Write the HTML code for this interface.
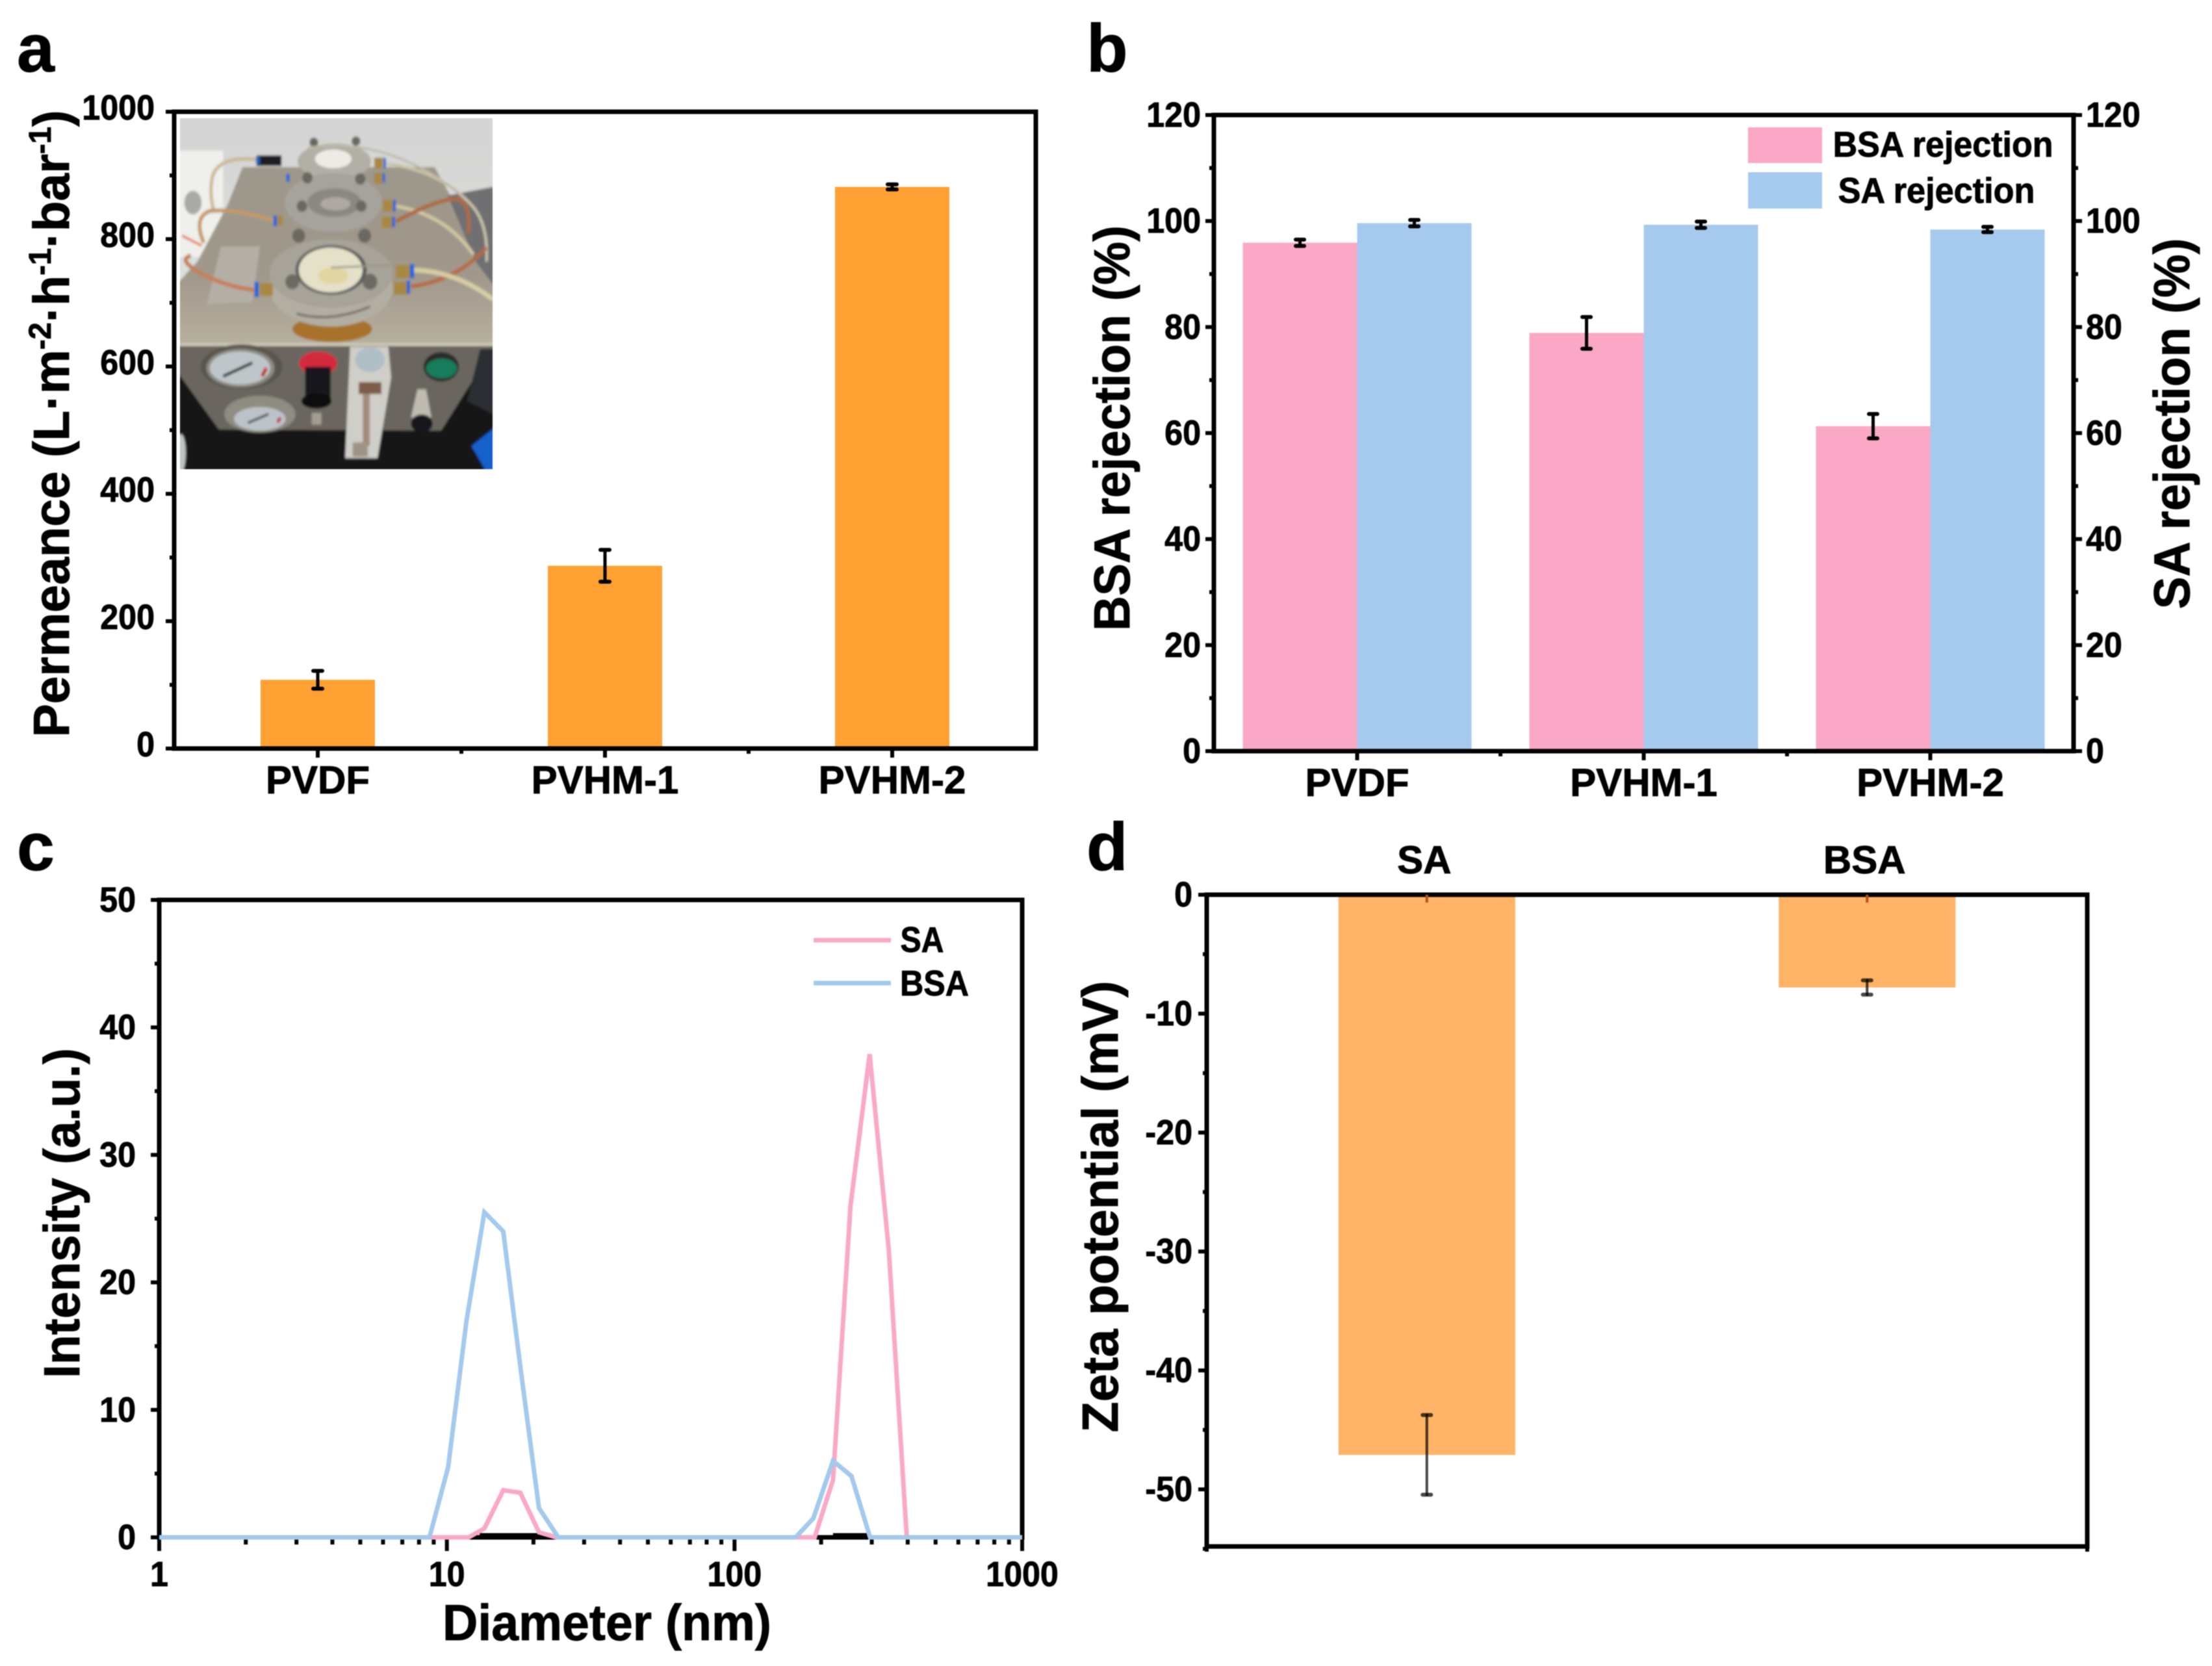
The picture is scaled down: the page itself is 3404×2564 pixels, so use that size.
<!DOCTYPE html>
<html lang="en">
<head>
<meta charset="utf-8">
<title>Membrane performance figure</title>
<style>
html,body{margin:0;padding:0;background:#fff;width:3404px;height:2564px;overflow:hidden}
svg{display:block}
#figure{filter:blur(.7px)}
text{font-family:"Liberation Sans",Arial,sans-serif;font-weight:700;fill:#000;stroke:#000;stroke-width:.9px}
</style>
</head>
<body>
<svg id="figure" xmlns="http://www.w3.org/2000/svg" width="3404" height="2564" viewBox="0 0 3404 2564">
<defs>
  <filter id="soft" x="-5%" y="-5%" width="110%" height="110%"><feGaussianBlur stdDeviation="5"/></filter>
  <linearGradient id="plate" x1="0" y1="0" x2="0" y2="1"><stop offset="0" stop-color="#9E978B"/><stop offset=".6" stop-color="#A0988A"/><stop offset="1" stop-color="#B8B0A0"/></linearGradient>
  <linearGradient id="wall" x1="0" y1="0" x2="0" y2="1"><stop offset="0" stop-color="#D2D4D2"/><stop offset="1" stop-color="#ECEDEB"/></linearGradient>
</defs>
<rect width="3404" height="2564" fill="#fff"/>

<g id="panel-a">
  <text x="26" y="110" font-size="104">a</text>
  <g id="a-marks"></g>
  <rect x="268" y="172" width="1326" height="980" fill="none" stroke="#000" stroke-width="7"/>
  <g id="a-axes"></g>
  <text data-w="965" transform="translate(106,652) rotate(-90)" text-anchor="middle" font-size="78">Permeance (L·m<tspan dy="-28" font-size="48">-2</tspan><tspan dy="28">·h</tspan><tspan dy="-28" font-size="48">-1</tspan><tspan dy="28">·bar</tspan><tspan dy="-28" font-size="48">-1</tspan><tspan dy="28">)</tspan></text>
  <svg x="277" y="182" width="481" height="540" viewBox="50 33 1448 1485" preserveAspectRatio="none">
    <g filter="url(#soft)" fill="none">
      <rect x="30" y="20" width="1480" height="1510" fill="url(#wall)"/>
      <rect x="30" y="170" width="220" height="450" fill="#EFEFEC"/>
      <polygon points="340,240 1230,240 1520,720 1520,1000 30,1000 30,740 130,640 270,400" fill="url(#plate)"/>
      <polygon points="1290,360 1520,320 1520,760 1420,640" fill="#6F7072"/>
      <ellipse cx="110" cy="390" rx="40" ry="50" fill="#A9A9A7"/>
      <polygon points="240,575 420,575 385,810 175,820" fill="#B4AFA6"/>
      <path d="M60 530 L150 572" stroke="#E8591F" stroke-width="9"/>
      <ellipse cx="765" cy="215" rx="170" ry="75" fill="#B1AFA6"/>
      <ellipse cx="760" cy="205" rx="85" ry="40" fill="#EDEBE4"/>
      <ellipse cx="760" cy="390" rx="225" ry="125" fill="#A5A39B"/>
      <ellipse cx="765" cy="390" rx="125" ry="60" fill="#8A8883"/>
      <ellipse cx="770" cy="395" rx="70" ry="28" fill="#AFA9A1"/>
      <g fill="#6A6860">
        <circle cx="670" cy="135" r="20"/><circle cx="865" cy="130" r="20"/>
        <circle cx="640" cy="285" r="24"/><circle cx="885" cy="290" r="24"/>
        <circle cx="615" cy="405" r="24"/><circle cx="890" cy="405" r="24"/>
        <circle cx="600" cy="530" r="30"/><circle cx="905" cy="530" r="30"/>
      </g>
      <ellipse cx="755" cy="925" rx="185" ry="55" fill="#A8722C"/>
      <ellipse cx="750" cy="750" rx="285" ry="165" fill="#B3AEA2"/>
      <ellipse cx="750" cy="690" rx="285" ry="145" fill="#A8A399"/>
      <ellipse cx="750" cy="675" rx="165" ry="105" fill="#565A5C"/>
      <ellipse cx="748" cy="675" rx="148" ry="95" fill="#E4E1C8"/>
      <ellipse cx="760" cy="700" rx="70" ry="35" fill="#E2D6A0"/>
      <path d="M750 665 L1020 655" stroke="#9A968A" stroke-width="8"/>
      <path d="M590 860 Q750 900 930 830" stroke="#6F6D66" stroke-width="10"/>
      <circle cx="570" cy="725" r="32" fill="#6C6A62"/><circle cx="930" cy="725" r="34" fill="#6C6A62"/>
      <path d="M410 208 Q230 190 200 280 Q185 350 205 420" stroke="#C9B793" stroke-width="15"/>
      <path d="M480 465 Q300 415 190 425 Q110 450 160 560" stroke="#C4986A" stroke-width="17"/>
      <path d="M395 760 Q250 745 130 680 Q40 630 100 615" stroke="#C5805A" stroke-width="18"/>
      <path d="M1000 225 Q1250 250 1400 400 Q1480 480 1470 640" stroke="#C9C2A8" stroke-width="13"/>
      <path d="M1050 405 Q1280 440 1410 610" stroke="#D2C6A2" stroke-width="15"/>
      <path d="M1050 470 Q1250 370 1340 375 Q1400 400 1385 520" stroke="#AF6A42" stroke-width="17"/>
      <path d="M1120 745 Q1330 720 1470 580" stroke="#B66A45" stroke-width="17"/>
      <path d="M1130 675 Q1330 680 1500 800" stroke="#D8CDA6" stroke-width="20"/>
      <path d="M640 160 Q800 130 1000 180 Q1200 240 1340 350" stroke="#BDB8A6" stroke-width="9"/>
      <rect x="405" y="190" width="115" height="45" fill="#1D1E24"/><rect x="402" y="195" width="18" height="32" fill="#1B66C9"/>
      <g fill="#A98843">
        <rect x="950" y="200" width="40" height="45"/><rect x="950" y="265" width="40" height="45"/>
        <rect x="990" y="378" width="48" height="50"/><rect x="985" y="450" width="50" height="48"/>
        <rect x="1050" y="655" width="70" height="55"/><rect x="1040" y="725" width="70" height="55"/>
        <rect x="420" y="730" width="60" height="55"/><rect x="490" y="445" width="35" height="40"/>
      </g>
      <g fill="#1466DA">
        <rect x="992" y="200" width="12" height="45"/><rect x="988" y="265" width="12" height="40"/>
        <rect x="1036" y="378" width="14" height="50"/><rect x="1032" y="450" width="14" height="45"/>
        <rect x="1115" y="650" width="20" height="60"/><rect x="1100" y="720" width="16" height="55"/>
        <rect x="395" y="725" width="20" height="65"/><rect x="483" y="445" width="16" height="45"/>
        <rect x="542" y="268" width="16" height="34"/>
      </g>
      <rect x="30" y="985" width="1490" height="12" fill="#D0CBBD"/>
      <rect x="30" y="997" width="1490" height="540" fill="#141519"/>
      <polygon points="40,997 1510,997 1498,1010 1260,1355 230,1350 40,1110" fill="#6A665E"/>
      <polygon points="1440,1010 1510,1010 1510,1290 1380,1230" fill="#2B2D30"/>
      <ellipse cx="335" cy="1085" rx="190" ry="95" fill="#5A564E"/>
      <ellipse cx="330" cy="1090" rx="158" ry="82" fill="#8D8B84"/>
      <ellipse cx="328" cy="1090" rx="140" ry="70" fill="#BFC6CA"/>
      <path d="M250 1125 L385 1068" stroke="#17181C" stroke-width="12"/>
      <path d="M430 1125 L450 1090" stroke="#C0272D" stroke-width="16"/>
      <ellipse cx="420" cy="1285" rx="165" ry="78" fill="#8F8C82"/>
      <ellipse cx="420" cy="1305" rx="120" ry="50" fill="#BCC3C8"/>
      <path d="M365 1322 L460 1285" stroke="#17181C" stroke-width="9"/>
      <path d="M502 1320 L515 1300" stroke="#C0272D" stroke-width="14"/>
      <ellipse cx="690" cy="1070" rx="88" ry="50" fill="#D42A3C"/>
      <rect x="630" y="1085" width="118" height="155" fill="#15161A"/>
      <ellipse cx="682" cy="1230" rx="70" ry="32" fill="#0B0B0E"/>
      <rect x="660" y="1280" width="45" height="50" fill="#A29E93"/>
      <polygon points="838,1000 1015,1000 1028,1130 965,1472 815,1472" fill="#CFCEC9"/>
      <ellipse cx="930" cy="1055" rx="68" ry="52" fill="#B0BEC6"/>
      <rect x="878" y="1150" width="105" height="50" fill="#7B5D4A"/>
      <rect x="897" y="1200" width="32" height="220" fill="#A38C7C"/>
      <rect x="850" y="1405" width="70" height="60" fill="#9E9485"/>
      <ellipse cx="1260" cy="1085" rx="82" ry="62" fill="#2B2C2C"/>
      <ellipse cx="1262" cy="1092" rx="72" ry="42" fill="#177B5C"/>
      <polygon points="1150,1180 1190,1180 1215,1300 1120,1300" fill="#BFBBB1"/>
      <ellipse cx="1170" cy="1325" rx="50" ry="38" fill="#17181C"/>
      <polygon points="1510,1340 1510,1530 1470,1530 1400,1420" fill="#1561CC"/>
      <ellipse cx="55" cy="1450" rx="22" ry="80" fill="#BFC4C4"/>
    </g>
  </svg>
</g>

<g id="panel-b">
  <text x="1672" y="110" font-size="104">b</text>
  <g id="b-marks"></g>
  <rect x="1868" y="177" width="1323" height="979" fill="none" stroke="#000" stroke-width="7"/>
  <g id="b-axes"></g>
  <text data-w="624" transform="translate(1738,659) rotate(-90)" text-anchor="middle" font-size="78">BSA rejection (%)</text>
  <text data-w="571" transform="translate(3369,652) rotate(-90)" text-anchor="middle" font-size="78">SA rejection (%)</text>
  <g>
    <rect x="2690" y="196" width="114" height="55" fill="#FAA8C6"/>
    <rect x="2690" y="265" width="114" height="56" fill="#A5CAEE"/>
    <text data-w="339" transform="translate(2990,241)" text-anchor="middle" font-size="55">BSA rejection</text>
    <text data-w="303" transform="translate(2980,312)" text-anchor="middle" font-size="55">SA rejection</text>
  </g>
</g>

<g id="panel-c">
  <text x="26" y="1339" font-size="104">c</text>
  <rect x="245" y="1385" width="1328" height="981" fill="none" stroke="#000" stroke-width="7"/>
  <g id="c-axes"></g>
  <g id="c-marks"></g>
  <text data-w="508" transform="translate(122,1867) rotate(-90)" text-anchor="middle" font-size="78">Intensity (a.u.)</text>
  <text data-w="506" transform="translate(934,2524)" text-anchor="middle" font-size="78">Diameter (nm)</text>
  <g>
    <line x1="1252" y1="1447" x2="1371" y2="1447" stroke="#F9A8C8" stroke-width="7"/>
    <line x1="1252" y1="1513" x2="1371" y2="1513" stroke="#A3C9EC" stroke-width="7"/>
    <text data-w="67" transform="translate(1419,1465)" text-anchor="middle" font-size="55">SA</text>
    <text data-w="106" transform="translate(1438,1532)" text-anchor="middle" font-size="55">BSA</text>
  </g>
</g>

<g id="panel-d">
  <text x="1672" y="1339" font-size="104">d</text>
  <g id="d-marks"></g>
  <rect x="1857" y="1377" width="1355" height="1003" fill="none" stroke="#000" stroke-width="7"/>
  <g id="d-axes"></g>
  <text data-w="695" transform="translate(1720,1857) rotate(-90)" text-anchor="middle" font-size="78">Zeta potential (mV)</text>
</g>
</svg>

<script>
// ---- panel a data ----
const aCategories = ['PVDF', 'PVHM-1', 'PVHM-2'];
const aPermeance = [108, 287, 882];
const aPermeanceError = [14, 25, 4];
const aTicks = [0, 200, 400, 600, 800, 1000];
// ---- panel b data ----
const bCategories = ['PVDF', 'PVHM-1', 'PVHM-2'];
const bBsaRejection = [95.9, 78.9, 61.3];
const bBsaError = [0.6, 3, 2.3];
const bSaRejection = [99.6, 99.3, 98.4];
const bSaError = [0.6, 0.6, 0.5];
const bTicks = [0, 20, 40, 60, 80, 100, 120];
// ---- panel c data ----
const cSaDiameter = [1, 11.9, 13.5, 15.7, 18, 20.9, 24, 190, 220, 253, 295, 344, 397, 1000];
const cSaIntensity = [0, 0, 0.7, 3.7, 3.5, 0.4, 0, 0, 4.5, 26, 37.9, 22.5, 0, 0];
const cBsaDiameter = [1, 8.7, 10.1, 11.7, 13.5, 15.7, 18.1, 20.9, 24.4, 163, 188, 220, 255, 296, 1000];
const cBsaIntensity = [0, 0, 5.5, 17, 25.5, 24, 13, 2.3, 0, 0, 1.5, 6, 4.8, 0, 0];
const cBaselineRanges = [[13, 23], [220, 295]];
const cYTicks = [0, 10, 20, 30, 40, 50];
const cXTicks = [1, 10, 100, 1000];
// ---- panel d data ----
const dCategories = ['SA', 'BSA'];
const dZeta = [-47.1, -7.8];
const dZetaError = [3.35, 0.6];
const dTicks = [0, -10, -20, -30, -40, -50];

const NS = 'http://www.w3.org/2000/svg';
function make(parent, tag, attrs) {
  const el = document.createElementNS(NS, tag);
  for (const k in attrs) el.setAttribute(k, attrs[k]);
  parent.appendChild(el);
  return el;
}
function tickLine(parent, x1, y1, x2, y2, w, name) {
  const el = make(parent, 'line', {x1, y1, x2, y2, stroke: '#000', 'stroke-width': w});
  
  
  return el;
}
function tickText(parent, str, x, y, anchor, size, sx, name) {
  const el = make(parent, 'text', {transform: `translate(${x},${y}) scale(${sx},1)`, 'text-anchor': anchor, 'font-size': size});
  el.textContent = str;
  
  
  return el;
}
function rectBar(parent, x, y, w, h, fill, name) {
  const el = make(parent, 'rect', {x, y, width: w, height: h, fill});
  
  
  return el;
}
function errorBar(parent, x, yHigh, yLow, w, capW, capH, name) {
  const g = make(parent, 'g', {stroke: '#000', 'stroke-linecap': 'round'});
  
  
  make(g, 'line', {x1: x, y1: yHigh, x2: x, y2: yLow, 'stroke-width': w});
  make(g, 'line', {x1: x - capW / 2, y1: yHigh, x2: x + capW / 2, y2: yHigh, 'stroke-width': capH});
  make(g, 'line', {x1: x - capW / 2, y1: yLow, x2: x + capW / 2, y2: yLow, 'stroke-width': capH});
  return g;
}

// ---- panel a ----
(function () {
  const marks = document.getElementById('a-marks'), axes = document.getElementById('a-axes');
  const L = 268, R = 1594, T = 172, B = 1152;
  const y = v => B - (v / 1000) * (B - T);
  const x = i => L + (i + 0.5) / aCategories.length * (R - L);
  aCategories.forEach((c, i) => {
    rectBar(marks, x(i) - 88, y(aPermeance[i]), 176, B - y(aPermeance[i]), '#FFA033', 'bar-' + c);
    errorBar(marks, x(i), y(aPermeance[i] + aPermeanceError[i]), y(aPermeance[i] - aPermeanceError[i]), 5, 14, 6, 'error-bar-' + c);
    tickLine(axes, x(i), B, x(i), B + 14, 6, 'x-tick-' + c);
    tickText(axes, c, x(i), 1221, 'middle', 60, 1.0, 'x-tick-label-' + c);
    if (i < aCategories.length - 1) tickLine(axes, x(i + 0.5), B, x(i + 0.5), B + 8, 6, 'x-minor-tick');
  });
  aTicks.forEach((v, i) => {
    tickLine(axes, L - 13, y(v), L, y(v), 6, 'y-tick-' + v);
    tickText(axes, String(v), 238, y(v) + 12, 'end', 54, 0.93, 'y-tick-label-' + v);
    if (i < aTicks.length - 1) tickLine(axes, L - 7, y(v + 100), L, y(v + 100), 6, 'y-minor-tick');
  });
})();

// ---- panel b ----
(function () {
  const marks = document.getElementById('b-marks'), axes = document.getElementById('b-axes');
  const L = 1868, R = 3191, T = 177, B = 1156;
  const y = v => B - (v / 120) * (B - T);
  const x = i => L + (i + 0.5) / bCategories.length * (R - L);
  bCategories.forEach((c, i) => {
    const pw = 176;
    rectBar(marks, x(i) - pw, y(bBsaRejection[i]), pw, B - y(bBsaRejection[i]), '#FAA8C6', 'bar-bsa-' + c);
    rectBar(marks, x(i), y(bSaRejection[i]), pw, B - y(bSaRejection[i]), '#A5CAEE', 'bar-sa-' + c);
    errorBar(marks, x(i) - pw / 2, y(bBsaRejection[i] + bBsaError[i]), y(bBsaRejection[i] - bBsaError[i]), 5, 13, 6, 'error-bar-bsa-' + c);
    errorBar(marks, x(i) + pw / 2, y(bSaRejection[i] + bSaError[i]), y(bSaRejection[i] - bSaError[i]), 5, 13, 6, 'error-bar-sa-' + c);
    tickLine(axes, x(i), B, x(i), B + 14, 6, 'x-tick-' + c);
    tickText(axes, c, x(i), 1225, 'middle', 60, 1.0, 'x-tick-label-' + c);
    if (i < bCategories.length - 1) tickLine(axes, x(i + 0.5), B, x(i + 0.5), B + 8, 6, 'x-minor-tick');
  });
  bTicks.forEach((v, i) => {
    tickLine(axes, L - 13, y(v), L, y(v), 6, 'left-y-tick-' + v);
    tickLine(axes, R, y(v), R + 13, y(v), 6, 'right-y-tick-' + v);
    tickText(axes, String(v), 1848, y(v) + 18, 'end', 54, 0.93, 'left-y-tick-label-' + v);
    tickText(axes, String(v), 3210, y(v) + 18, 'start', 54, 0.93, 'right-y-tick-label-' + v);
    if (i < bTicks.length - 1) {
      tickLine(axes, L - 7, y(v + 10), L, y(v + 10), 6, 'left-y-minor-tick');
      tickLine(axes, R, y(v + 10), R + 7, y(v + 10), 6, 'right-y-minor-tick');
    }
  });
})();

// ---- panel c ----
(function () {
  const marks = document.getElementById('c-marks'), axes = document.getElementById('c-axes');
  const L = 245, R = 1573, T = 1385, B = 2366;
  const x = d => L + Math.log10(d) / 3 * (R - L);
  const y = v => B - (v / 50) * (B - T);
  cBaselineRanges.forEach(r => {
    tickLine(marks, x(r[0]), B - 3, x(r[1]), B - 3, 7, 'baseline-segment');
  });
  const drawCurve = (xs, ys, color, name) => {
    const pts = xs.map((d, i) => x(d).toFixed(1) + ',' + y(ys[i]).toFixed(1)).join(' ');
    const el = make(marks, 'polyline', {points: pts, fill: 'none', stroke: color, 'stroke-width': 7, 'stroke-linejoin': 'miter'});
    
    
  };
  drawCurve(cSaDiameter, cSaIntensity, '#F9A8C8', 'curve-sa');
  drawCurve(cBsaDiameter, cBsaIntensity, '#A3C9EC', 'curve-bsa');
  cYTicks.forEach((v, i) => {
    tickLine(axes, L - 13, y(v), L, y(v), 6, 'y-tick-' + v);
    tickText(axes, String(v), 209, y(v) + 18, 'end', 54, 0.93, 'y-tick-label-' + v);
    if (i < cYTicks.length - 1) tickLine(axes, L - 7, y(v + 5), L, y(v + 5), 6, 'y-minor-tick');
  });
  cXTicks.forEach((d, i) => {
    tickLine(axes, x(d), B, x(d), B + 21, 6, 'x-tick-' + d);
    tickText(axes, String(d), x(d), 2441, 'middle', 54, 0.93, 'x-tick-label-' + d);
    if (i < cXTicks.length - 1) {
      for (let m = 2; m < 10; m++) tickLine(axes, x(d * m), B, x(d * m), B + 11, 6, 'x-minor-tick');
    }
  });
})();

// ---- panel d ----
(function () {
  const marks = document.getElementById('d-marks'), axes = document.getElementById('d-axes');
  const L = 1857, R = 3212, T = 1377, B = 2380;
  const y = v => T + (-v / 54.8) * (B - T);
  const x = i => L + (i + 0.5) / dCategories.length * (R - L);
  dCategories.forEach((c, i) => {
    rectBar(marks, x(i) - 136, T, 272, y(dZeta[i]) - T, '#FEB366', 'bar-' + c);
    const eb = errorBar(marks, x(i), y(dZeta[i] + dZetaError[i]), y(dZeta[i] - dZetaError[i]), 4, 13, 6, 'error-bar-' + c);
    eb.setAttribute('stroke-opacity', '0.72');
    const tick = tickLine(axes, x(i), T, x(i), T + 12, 4, 'x-tick-' + c);
    tick.setAttribute('stroke', '#B5521A');
    tickText(axes, c, x(i) - 4, 1344, 'middle', 60, 1.0, 'x-tick-label-' + c);
  });
  tickLine(axes, L, B, L, B + 8, 6, 'x-end-tick-left');
  tickLine(axes, R, B, R, B + 8, 6, 'x-end-tick-right');
  dTicks.forEach((v, i) => {
    tickLine(axes, L - 13, y(v), L, y(v), 6, 'y-tick-' + v);
    tickText(axes, String(v), 1835, y(v) + 18, 'end', 54, 0.93, 'y-tick-label-' + v);
    tickLine(axes, L - 6, y(v - 5), L, y(v - 5), 6, 'y-minor-tick');
  });
})();

// Fit static titles to their measured widths in the figure.
document.querySelectorAll('[data-w]').forEach(function (el) {
  const target = parseFloat(el.getAttribute('data-w'));
  const len = el.getComputedTextLength();
  if (len > 0) el.setAttribute('transform', el.getAttribute('transform') + ' scale(' + (target / len).toFixed(4) + ',1)');
});
</script>
</body>
</html>
